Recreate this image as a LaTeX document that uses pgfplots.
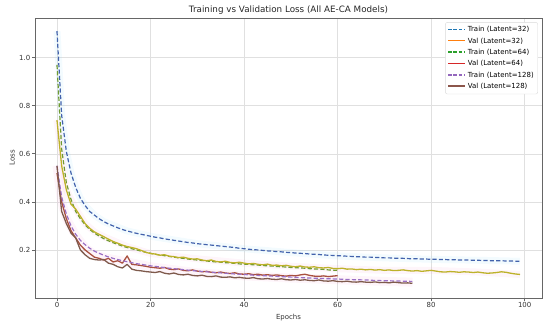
\documentclass[border=0pt]{standalone}
\usepackage{fontspec}
\setmainfont{DejaVu Sans}
\usepackage{pgfplots}
\pgfplotsset{compat=1.18}
\definecolor{tblue}{HTML}{1F77B4}
\definecolor{torange}{HTML}{FF7F0E}
\definecolor{tgreen}{HTML}{2CA02C}
\definecolor{tred}{HTML}{D62728}
\definecolor{tpurple}{HTML}{9467BD}
\definecolor{tbrown}{HTML}{8C564B}
\definecolor{pblue}{HTML}{4262AC}
\definecolor{polive}{HTML}{BDB22A}
\definecolor{pgreen}{HTML}{6F9A30}
\definecolor{pred}{HTML}{A8503E}
\definecolor{ppurple}{HTML}{9A6FC4}
\definecolor{pbrown}{HTML}{7E5A4C}
\definecolor{gridc}{HTML}{E0E0E0}
\begin{document}
\begin{tikzpicture}
\begin{axis}[
  scale only axis, width=507bp, height=280bp,
  xmin=-4.7, xmax=103.7, ymin=0.0, ymax=1.165,
  xtick={0,20,40,60,80,100}, ytick={0.2,0.4,0.6,0.8,1.0},
  yticklabel style={/pgf/number format/.cd,fixed,fixed zerofill,precision=1},
  /pgf/number format/assume math mode=true,
  tick label style={font=\fontsize{7}{8}\selectfont, text=black!80},
  ticklabel style={inner sep=1.5pt},
  tick align=outside, tick pos=left, major tick length=3bp,
  tick style={black!60, line width=0.6pt},
  axis line style={black!60, line width=0.8pt},
  grid=major, grid style={gridc, line width=0.5pt},
  xlabel={Epochs}, ylabel={Loss},
  label style={font=\fontsize{7}{8}\selectfont, text=black!80},
  xlabel style={at={(0.5,0)}, anchor=north, yshift=-16bp, inner sep=0pt},
  ylabel style={at={(0,0.5)}, anchor=south, yshift=20bp, inner sep=0pt},
  title={Training vs Validation Loss (All AE-CA Models)},
  title style={font=\fontsize{8.8}{10}\selectfont, text=black!85, at={(0.5,1)}, anchor=south, yshift=-3bp, inner sep=0pt},
  legend style={at={(0.992,0.985)}, anchor=north east, font=\fontsize{7}{8}\selectfont,
    draw=black!15, fill=white, rounded corners=2pt,
    inner sep=2pt, row sep=0.6pt, nodes={inner sep=2pt}},
  legend cell align=left,
  legend image code/.code={\draw[line width=1.5pt,#1] (0cm,0.5pt) -- (0.6cm,0.5pt);},
  every axis plot/.append style={line join=round},
]
% legend entries
\addlegendimage{draw=tblue, dash pattern=on 3.5pt off 1.8pt}
\addlegendentry{Train (Latent=32)}
\addlegendimage{draw=torange}
\addlegendentry{Val (Latent=32)}
\addlegendimage{draw=tgreen, dash pattern=on 3.5pt off 1.8pt}
\addlegendentry{Train (Latent=64)}
\addlegendimage{draw=tred}
\addlegendentry{Val (Latent=64)}
\addlegendimage{draw=tpurple, dash pattern=on 3.5pt off 1.8pt}
\addlegendentry{Train (Latent=128)}
\addlegendimage{draw=tbrown}
\addlegendentry{Val (Latent=128)}

% faint bands
\addplot[forget plot, cyan!40, opacity=0.12, line width=7pt] coordinates {
(0,1.11)(1,0.76)(2,0.61)(3,0.52)(4,0.46)(5,0.415)(6,0.385)(8,0.345)(10,0.318)(15,0.279)(20,0.257)(30,0.226)(40,0.205)(50,0.189)(60,0.175)(70,0.167)(80,0.161)(90,0.157)(99,0.153)};
\addplot[forget plot, magenta!40, opacity=0.10, line width=7pt] coordinates {
(0,0.74)(2,0.45)(4,0.37)(6,0.31)(8,0.275)(10,0.255)(15,0.214)(20,0.185)(30,0.163)(40,0.145)(50,0.132)(60,0.122)(70,0.115)(80,0.115)(90,0.108)(99,0.098)};
\addplot[forget plot, magenta!40, opacity=0.10, line width=9pt] coordinates {
(0,0.55)(1,0.40)(2,0.33)(4,0.26)(6,0.21)(8,0.18)(10,0.168)(15,0.15)(20,0.13)(30,0.105)(40,0.092)(50,0.083)(60,0.076)(70,0.069)(76,0.066)};

% Train Latent=32
\addplot[forget plot, pblue, line width=1.2pt, dash pattern=on 4.2pt off 2.2pt] coordinates {
(0,1.11)(1,0.76)(2,0.61)(3,0.52)(4,0.46)(5,0.415)(6,0.385)(7,0.36)(8,0.345)(9,0.33)
(10,0.318)(11,0.308)(12,0.300)(13,0.292)(14,0.285)(15,0.279)(16,0.274)(17,0.269)(18,0.265)(19,0.261)
(20,0.257)(21,0.253)(22,0.250)(23,0.246)(24,0.243)(25,0.240)(26,0.237)(27,0.234)(28,0.231)(29,0.229)
(30,0.226)(31,0.224)(32,0.222)(33,0.220)(34,0.218)(35,0.216)(36,0.214)(37,0.212)(38,0.210)(39,0.207)
(40,0.205)(41,0.203)(42,0.201)(43,0.200)(44,0.198)(45,0.196)(46,0.195)(47,0.193)(48,0.192)(49,0.190)
(50,0.189)(51,0.187)(52,0.186)(53,0.185)(54,0.183)(55,0.182)(56,0.181)(57,0.179)(58,0.178)(59,0.177)
(60,0.176)(61,0.175)(62,0.174)(63,0.173)(64,0.172)(65,0.171)(66,0.170)(67,0.170)(68,0.169)(69,0.168)
(70,0.167)(71,0.167)(72,0.166)(73,0.165)(74,0.165)(75,0.164)(76,0.163)(77,0.163)(78,0.162)(79,0.162)
(80,0.161)(81,0.161)(82,0.160)(83,0.160)(84,0.159)(85,0.159)(86,0.158)(87,0.158)(88,0.158)(89,0.157)
(90,0.157)(91,0.156)(92,0.156)(93,0.155)(94,0.155)(95,0.155)(96,0.154)(97,0.154)(98,0.153)(99,0.153)};

% Train Latent=64
\addplot[forget plot, pgreen, line width=1.2pt, dash pattern=on 4.2pt off 2.2pt] coordinates {
(0,0.97)(1,0.62)(2,0.48)(3,0.41)(4,0.36)(5,0.33)(6,0.305)(7,0.285)(8,0.270)(9,0.258)
(10,0.247)(11,0.238)(12,0.230)(13,0.223)(14,0.216)(15,0.210)(16,0.205)(17,0.200)(18,0.195)(19,0.190)
(20,0.186)(21,0.182)(22,0.179)(23,0.176)(24,0.173)(25,0.170)(26,0.167)(27,0.165)(28,0.162)(29,0.160)
(30,0.158)(31,0.156)(32,0.154)(33,0.152)(34,0.150)(35,0.149)(36,0.147)(37,0.146)(38,0.144)(39,0.142)
(40,0.141)(41,0.140)(42,0.138)(43,0.137)(44,0.135)(45,0.134)(46,0.133)(47,0.131)(48,0.130)(49,0.129)
(50,0.127)(51,0.126)(52,0.125)(53,0.124)(54,0.122)(55,0.121)(56,0.120)(57,0.119)(58,0.117)(59,0.116)(60,0.115)};

% Val Latent=32
\addplot[forget plot, polive, line width=1.3pt] coordinates {
(0,0.74)(1,0.55)(2,0.45)(3,0.39)(4,0.37)(5,0.34)(6,0.31)(7,0.29)(8,0.275)(9,0.265)
(10,0.255)(11,0.245)(12,0.235)(13,0.228)(14,0.220)(15,0.214)(16,0.210)(17,0.205)(18,0.198)(19,0.190)
(20,0.185)(21,0.183)(22,0.178)(23,0.180)(24,0.174)(25,0.172)(26,0.168)(27,0.170)(28,0.165)(29,0.162)
(30,0.163)(31,0.158)(32,0.155)(33,0.158)(34,0.152)(35,0.150)(36,0.153)(37,0.148)(38,0.146)(39,0.149)
(40,0.145)(41,0.142)(42,0.144)(43,0.140)(44,0.138)(45,0.141)(46,0.136)(47,0.137)(48,0.134)(49,0.136)
(50,0.132)(51,0.130)(52,0.133)(53,0.129)(54,0.128)(55,0.130)(56,0.126)(57,0.125)(58,0.127)(59,0.123)
(60,0.122)(61,0.124)(62,0.120)(63,0.121)(64,0.118)(65,0.120)(66,0.117)(67,0.119)(68,0.116)(69,0.118)
(70,0.115)(71,0.117)(72,0.114)(73,0.115)(74,0.117)(75,0.114)(76,0.112)(77,0.114)(78,0.111)(79,0.113)
(80,0.115)(81,0.112)(82,0.109)(83,0.108)(84,0.110)(85,0.109)(86,0.107)(87,0.109)(88,0.108)(89,0.106)
(90,0.108)(91,0.105)(92,0.103)(93,0.104)(94,0.106)(95,0.109)(96,0.107)(97,0.103)(98,0.100)(99,0.098)};

% Val Latent=64
\addplot[forget plot, pred, line width=1.3pt] coordinates {
(0,0.52)(1,0.40)(2,0.33)(3,0.28)(4,0.25)(5,0.22)(6,0.20)(7,0.185)(8,0.170)(9,0.165)
(10,0.158)(11,0.165)(12,0.150)(13,0.155)(14,0.145)(15,0.175)(16,0.140)(17,0.138)(18,0.135)(19,0.132)
(20,0.128)(21,0.126)(22,0.124)(23,0.127)(24,0.120)(25,0.118)(26,0.121)(27,0.115)(28,0.113)(29,0.117)
(30,0.112)(31,0.109)(32,0.111)(33,0.107)(34,0.105)(35,0.108)(36,0.104)(37,0.102)(38,0.105)(39,0.100)
(40,0.099)(41,0.101)(42,0.097)(43,0.099)(44,0.095)(45,0.097)(46,0.094)(47,0.096)(48,0.093)(49,0.091)
(50,0.094)(51,0.092)(52,0.096)(53,0.099)(54,0.094)(55,0.091)(56,0.090)(57,0.092)(58,0.089)(59,0.091)(60,0.093)};

% Train Latent=128
\addplot[forget plot, ppurple, line width=1.2pt, dash pattern=on 4.2pt off 2.2pt] coordinates {
(0,0.55)(1,0.42)(2,0.35)(3,0.30)(4,0.265)(5,0.240)(6,0.222)(7,0.207)(8,0.195)(9,0.186)
(10,0.178)(11,0.171)(12,0.165)(13,0.160)(14,0.155)(15,0.151)(16,0.147)(17,0.143)(18,0.140)(19,0.137)
(20,0.134)(22,0.129)(24,0.124)(26,0.120)(28,0.116)(30,0.112)(32,0.109)(34,0.106)(36,0.103)(38,0.100)
(40,0.098)(42,0.095)(44,0.093)(46,0.091)(48,0.089)(50,0.087)(52,0.085)(54,0.083)(56,0.082)(58,0.080)
(60,0.079)(62,0.077)(64,0.076)(66,0.075)(68,0.073)(70,0.072)(72,0.071)(74,0.070)(76,0.069)};

% Val Latent=128
\addplot[forget plot, pbrown, line width=1.3pt] coordinates {
(0,0.55)(1,0.36)(2,0.31)(3,0.27)(4,0.25)(5,0.20)(6,0.18)(7,0.165)(8,0.160)(9,0.158)
(10,0.160)(11,0.145)(12,0.140)(13,0.130)(14,0.125)(15,0.140)(16,0.120)(17,0.115)(18,0.113)(19,0.110)
(20,0.108)(21,0.106)(22,0.110)(23,0.103)(24,0.100)(25,0.104)(26,0.098)(27,0.096)(28,0.099)(29,0.094)
(30,0.092)(31,0.095)(32,0.090)(33,0.089)(34,0.092)(35,0.087)(36,0.086)(37,0.088)(38,0.084)(39,0.086)
(40,0.083)(41,0.082)(42,0.085)(43,0.080)(44,0.079)(45,0.081)(46,0.078)(47,0.077)(48,0.080)(49,0.076)
(50,0.075)(51,0.077)(52,0.074)(53,0.076)(54,0.073)(55,0.072)(56,0.075)(57,0.071)(58,0.070)(59,0.072)
(60,0.069)(61,0.068)(62,0.070)(63,0.067)(64,0.066)(65,0.068)(66,0.066)(67,0.065)(68,0.067)(69,0.064)
(70,0.065)(71,0.063)(72,0.066)(73,0.064)(74,0.062)(75,0.063)(76,0.061)};
\end{axis}
\pgfresetboundingbox
\path[use as bounding box] ([xshift=-35bp,yshift=-30bp]current axis.south west) rectangle ([xshift=8bp,yshift=18bp]current axis.north east);
\end{tikzpicture}
\end{document}
